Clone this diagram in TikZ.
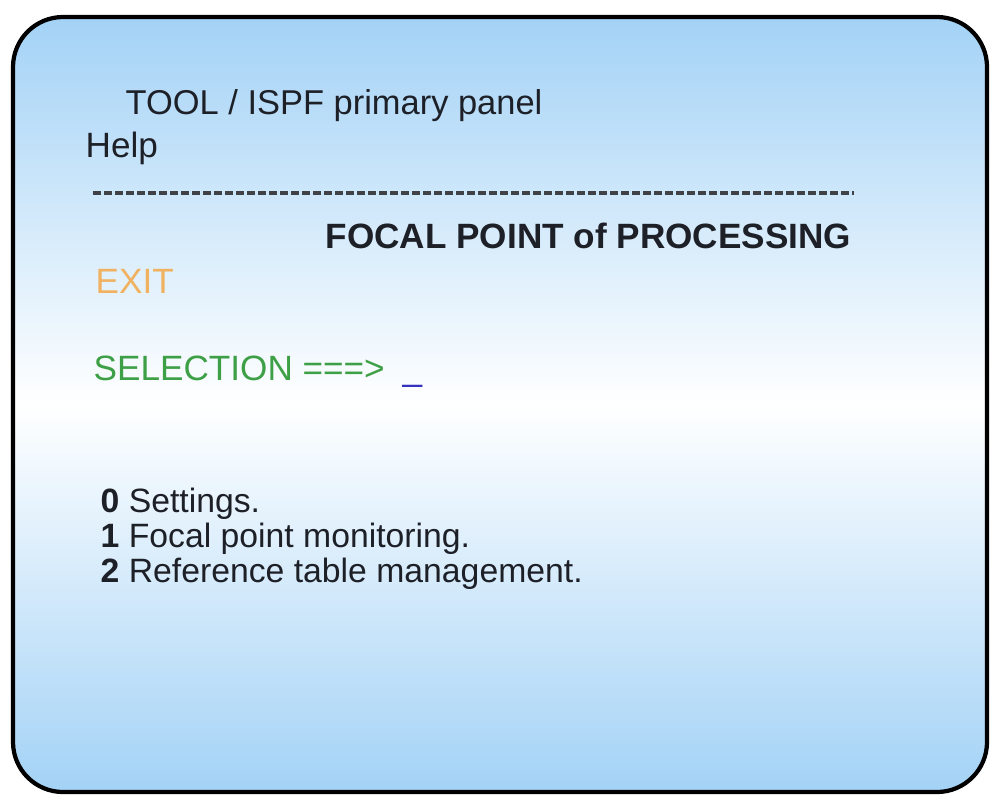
\documentclass[tikz,border=0pt]{standalone}
\usepackage{fontspec}
\setmainfont{Liberation Sans}
\definecolor{panelblue}{RGB}{163,210,246}
\definecolor{exitorange}{RGB}{240,178,96}
\definecolor{selgreen}{RGB}{62,160,70}
\definecolor{cursorblue}{RGB}{50,50,190}
\definecolor{inktext}{RGB}{30,32,40}

\begin{document}
\begin{tikzpicture}[txt/.style={anchor=base west,inner sep=0pt,font=\fontsize{10pt}{10pt}\selectfont,text=inktext},
        item/.style={txt,font=\fontsize{9.6pt}{9.6pt}\selectfont}]
        \useasboundingbox (0,0) rectangle (9.91,7.96);
        \draw [line width=1.2pt,rounded corners=0.5cm,top color=panelblue,bottom color=panelblue,middle color=white]
            (0.13,0.04) rectangle (9.87,7.79);
        \node [txt,font=\fontsize{9.8pt}{9.8pt}\selectfont] (title) at (1.25,6.81) {TOOL / ISPF primary panel};
        \node [txt] (help) at (0.85,6.39) {Help};
        \coordinate (dashL) at (0.93,6.03);
        \coordinate (dashR) at (8.54,6.03);
        \draw [inktext!85,line width=0.9pt,dash pattern=on 0.08cm off 0.03cm] (dashL) -- (dashR);
        \node [txt,font=\fontsize{10pt}{10pt}\selectfont\bfseries] (focal) at (3.25,5.48) {FOCAL POINT of PROCESSING};
        \node [txt,text=exitorange] (exit) at (0.95,5.03) {EXIT};
        \node [txt,text=selgreen] (sel) at (0.93,4.16) {SELECTION ===>};
        \node [txt,text=cursorblue] (cursor) at (4.02,4.16) {\_};
        \node [item] (opt0) at (1.00,2.84) {\textbf{0} Settings.};
        \node [item] (opt1) at (1.00,2.49) {\textbf{1} Focal point monitoring.};
        \node [item] (opt2) at (1.00,2.14) {\textbf{2} Reference table management.};
    \end{tikzpicture}
\end{document}
